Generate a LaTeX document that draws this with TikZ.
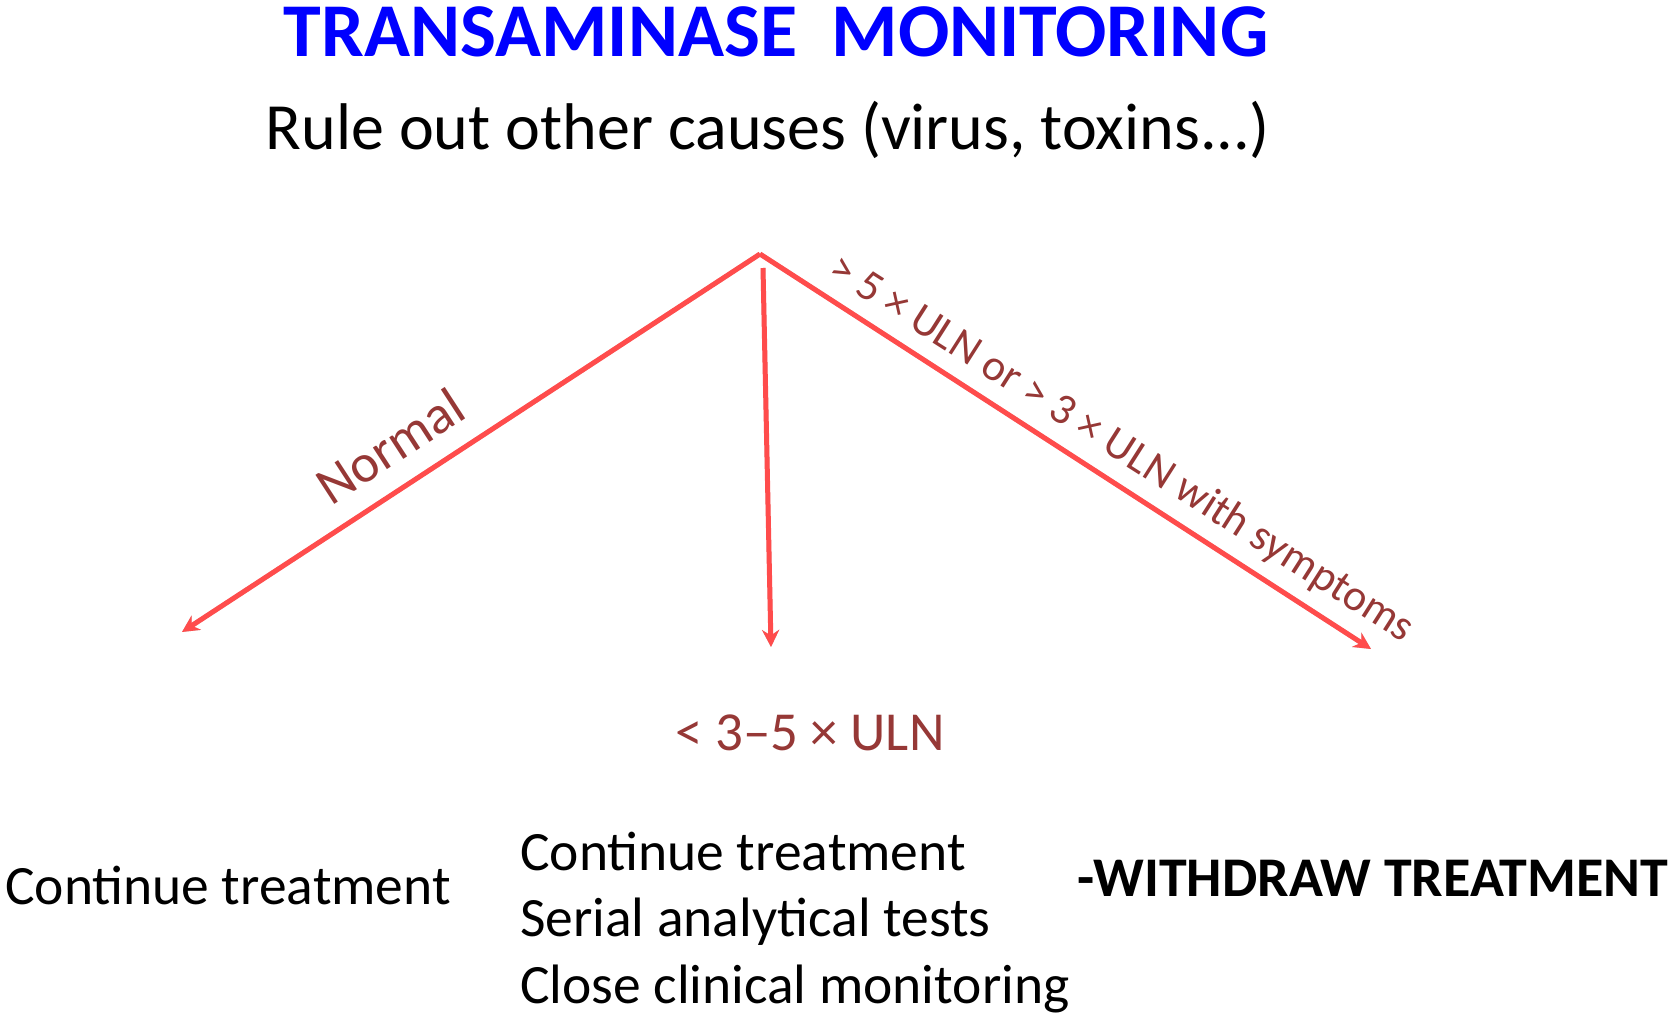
\documentclass[tikz,border=0pt]{standalone}
\usepackage{fontspec}
\setmainfont{Carlito}
\usetikzlibrary{arrows.meta}
\definecolor{titleblue}{RGB}{0,0,255}
\definecolor{arrowred}{RGB}{255,76,76}
\definecolor{labred}{RGB}{150,56,54}
\definecolor{shadowgray}{RGB}{150,150,150}
\tikzset{
  flow/.style={draw=arrowred, line width=5pt, -{Stealth[length=17pt,width=17pt]}},
  flowshadow/.style={draw=shadowgray, line width=4.5pt, opacity=0.5, -{Stealth[length=17pt,width=17pt]}},
  lbl/.style={text=labred, inner sep=0pt},
  body/.style={inner sep=0pt, anchor=base west, text=black, font=\fontsize{55.5}{64}\selectfont},
}
\begin{document}
\begin{tikzpicture}[x=1pt,y=-1pt]
\useasboundingbox (0,0) rectangle (1675,1020);
\fill[white] (0,0) rectangle (1675,1020);
% titles
\node[inner sep=0pt, text=titleblue, font=\fontsize{76}{86}\selectfont\bfseries] (title) at (776,32) {TRANSAMINASE\ \ MONITORING};
\node[inner sep=0pt, font=\fontsize{66}{76}\selectfont] (sub) at (768,130) {Rule out other causes (virus, toxins...)};
% branch points
\coordinate (apex) at (760,254);
\coordinate (mtop) at (763,268);
\coordinate (lend) at (182,632);
\coordinate (mend) at (771,647);
\coordinate (rend) at (1371,649);
% shadows
\begin{scope}[shift={(3,3)}]
\draw[flowshadow] (apex) -- (lend);
\draw[flowshadow] (mtop) -- (mend);
\draw[flowshadow] (apex) -- (rend);
\end{scope}
% arrows
\draw[flow] (apex) -- (lend);
\draw[flow] (mtop) -- (mend);
\draw[flow] (apex) -- (rend);
% arrow labels
\node[lbl, rotate=33, font=\fontsize{54}{60}\selectfont] (normal) at (390,446) {Normal};
\node[lbl, rotate=-32.5, font=\fontsize{44}{50}\selectfont] (crit) at (1121,449) {> 5 × ULN or > 3 × ULN with symptoms};
\node[lbl, anchor=base, font=\fontsize{55}{62}\selectfont] (mid) at (810,750) {< 3–5 × ULN};
% outcomes
\node[body] (o1) at (5,904) {Continue treatment};
\node[body] (o2a) at (520,870) {Continue treatment};
\node[body] (o2b) at (520,936) {Serial analytical tests};
\node[body] (o2c) at (520,1003) {Close clinical monitoring};
\node[body, font=\fontsize{56}{64}\selectfont\bfseries] (o3) at (1077,896) {-WITHDRAW TREATMENT};
\end{tikzpicture}
\end{document}
